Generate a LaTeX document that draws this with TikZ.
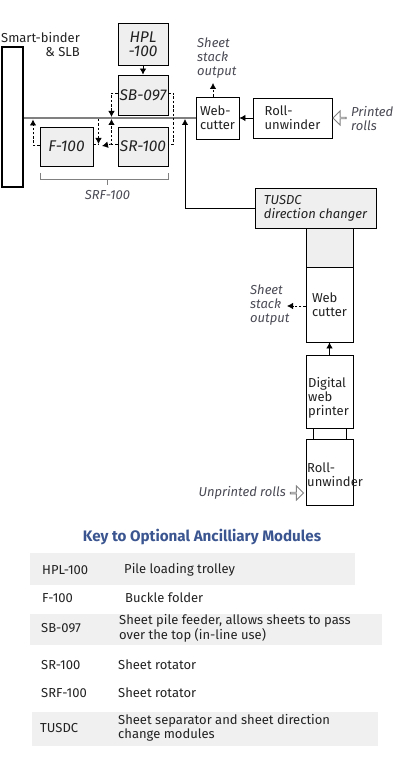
\documentclass[tikz,border=0pt]{standalone}
\usepackage{fontspec}
\setmainfont{Fira Sans}
\usetikzlibrary{arrows.meta,shapes.arrows}
\definecolor{boxfill}{HTML}{EFEFEF}
\definecolor{labgray}{HTML}{4A4A55}
\definecolor{linegray}{HTML}{808080}
\definecolor{keyblue}{HTML}{3A5590}
\definecolor{rowgray}{HTML}{F0F0F0}
\definecolor{txt}{HTML}{222222}
\newcommand\dfnt{\fontsize{13}{14}\selectfont}
\newcommand\difnt{\fontsize{13}{14}\selectfont\itshape}
\newcommand\bifnt{\fontsize{15.5}{14}\selectfont\itshape}
\newcommand\kfnt{\fontsize{13}{13.5}\selectfont}
\begin{document}
\begin{tikzpicture}[x=1pt,y=-1pt,
  box/.style={draw=black, line width=0.8pt, fill=white, inner sep=1pt, align=left, font=\dfnt, text=txt},
  gbox/.style={box, fill=boxfill, font=\bifnt},
  arr/.style={-{Latex[length=6pt,width=6.5pt]}, line width=0.8pt},
  darr/.style={arr, dash pattern=on 2.5pt off 1.8pt},
  dline/.style={line width=0.8pt, dash pattern=on 2.5pt off 1.8pt},
  mainline/.style={draw=linegray, line width=1.6pt},
  glab/.style={inner sep=0pt, align=left, font=\difnt, text=labgray},
  hollow/.style={single arrow, draw=linegray, line width=0.9pt, fill=white, minimum height=13pt, minimum width=14pt, single arrow head extend=3.5pt, inner sep=0pt},
  ktxt/.style={inner sep=0pt, anchor=west, align=left, font=\kfnt, text=txt},
  brk/.style={draw=linegray, line width=0.8pt}]
\useasboundingbox (0,0) rectangle (404,762);
% boxes
\node[box, line width=2pt, minimum width=21pt, minimum height=140pt] (smb) at (12.5,117) {};
\node[inner sep=0pt, align=right, font=\dfnt, text=txt] (smbl) at (40.5,44.5) {Smart-binder\\\& SLB};
\node[gbox, align=center, minimum width=50pt, minimum height=42pt] (hpl) at (143,44) {HPL\\-100};
\node[gbox, minimum width=50pt, minimum height=40pt] (sb) at (143,95) {SB-097};
\node[gbox, minimum width=50pt, minimum height=39pt] (sr) at (143,146.5) {SR-100};
\node[gbox, minimum width=53pt, minimum height=39pt] (f) at (66.5,146.5) {F-100};
\node[box, minimum width=43pt, minimum height=42pt] (wc1) at (217.5,118) {Web-\\cutter};
\node[box, minimum width=79pt, minimum height=40pt] (ru1) at (292.5,118) {Roll-\\unwinder};
\node[gbox, font=\difnt, minimum width=121pt, minimum height=40pt] (tusdc) at (315.5,208) {TUSDC\\direction changer};
\node[box, fill=boxfill, minimum width=47pt, minimum height=39pt] (gr) at (329.5,247.5) {};
\node[box, minimum width=47pt, minimum height=75pt] (wc2) at (329.5,304.5) {Web\\cutter};
\node[box, minimum width=47pt, minimum height=73pt] (pr) at (329.5,391.5) {};
\node[inner sep=0pt, anchor=west, align=left, font=\dfnt, text=txt] (prl) at (308,398) {Digital\\web\\printer};
\node[box, fill=none, minimum width=47pt, minimum height=66pt] (ru2) at (329.5,472) {};
\node[inner sep=0pt, anchor=west, align=left, font=\dfnt, text=txt] (ru2l) at (307,475) {Roll-\\unwinder};
% labels
\node[glab, anchor=west] (so1l) at (197,58) {Sheet\\stack\\output};
\node[glab, anchor=west] (prr) at (351,119) {Printed\\rolls};
\node[glab, anchor=west] (so2l) at (250,305.5) {Sheet\\stack\\output};
\node[glab, anchor=east] (upr) at (286,493) {Unprinted rolls};
\node[glab] (srfl) at (107.5,195) {SRF-100};
\node[hollow, shape border rotate=180] (ha1) at (340,118) {};
\node[hollow] (ha2) at (296.5,493) {};
% main line and arrows
\draw[mainline] (smb.east |- wc1.west) -- (wc1.west);
\draw[arr] (hpl.south) -- (sb.north);
\draw[arr] (ru1.west) -- (wc1.east);
\coordinate (so1) at (213,83);
\draw[darr] (wc1.north -| so1) -- (so1);
\coordinate (j1) at (185,119);
\draw[arr] (tusdc.west) -| (j1);
\draw[arr] (pr.north) -- (wc2.south);
\draw ([xshift=-16.5pt]pr.south) -- ([xshift=-16.5pt]ru2.north);
\draw ([xshift=16.5pt]pr.south) -- ([xshift=16.5pt]ru2.north);
\coordinate (so2) at (287,306);
\draw[darr] (wc2.west |- so2) -- (so2);
% dashed network
\coordinate (p1) at (111.5,93);
\coordinate (p2) at (111.5,117);
\coordinate (p3) at (173.5,93);
\coordinate (p4) at (173.5,144);
\coordinate (p5) at (111.5,144);
\coordinate (p6) at (111.5,119);
\coordinate (p7) at (102,146);
\coordinate (p8) at (98.5,119);
\coordinate (p9) at (98.5,144);
\coordinate (p10) at (33,145);
\coordinate (p11) at (33,119.5);
\draw[darr] (sb.west |- p1) -- (p1) -- (p2);
\draw[dline] (sb.east |- p3) -- (p3) -- (p4) -- (sr.east |- p4);
\draw[darr] (sr.west |- p5) -- (p5) -- (p6);
\draw[darr] (p5) -- (p7);
\draw[darr] (p8) -- (p9);
\draw[dline] (f.east |- p5) -- (p5 -| p8);
\draw[darr] (f.west |- p10) -- (p10) -- (p11);
% SRF bracket
\coordinate (b1) at (40,173);
\coordinate (b2) at (40,179);
\coordinate (b3) at (168,179);
\coordinate (b4) at (168,173);
\coordinate (b5) at (107,179);
\coordinate (b6) at (107,185);
\draw[brk] (b1) -- (b2) -- (b3) -- (b4);
\draw[brk] (b5) -- (b6);
% key
\node[inner sep=0pt, font=\fontsize{15.2}{16}\selectfont\bfseries, text=keyblue] (kt) at (202,537) {Key to Optional Ancilliary Modules};
\fill[rowgray] (30,553) rectangle (355,585);
\fill[rowgray] (30,614) rectangle (382,645);
\fill[rowgray] (32,712) rectangle (378,746);
\node[ktxt] (k1a) at (42,570) {HPL-100};
\node[ktxt] (k1b) at (124,570) {Pile loading trolley};
\node[ktxt] (k2a) at (42,598) {F-100};
\node[ktxt] (k2b) at (125,598) {Buckle folder};
\node[ktxt] (k3a) at (41,628) {SB-097};
\node[ktxt] (k3b) at (119,628.5) {Sheet pile feeder, allows sheets to pass\\over the top (in-line use)};
\node[ktxt] (k4a) at (41,665) {SR-100};
\node[ktxt] (k4b) at (118,665) {Sheet rotator};
\node[ktxt] (k5a) at (41,693) {SRF-100};
\node[ktxt] (k5b) at (118,693) {Sheet rotator};
\node[ktxt] (k6a) at (40,728) {TUSDC};
\node[ktxt] (k6b) at (118,728) {Sheet separator and sheet direction\\change modules};
\end{tikzpicture}
\end{document}
